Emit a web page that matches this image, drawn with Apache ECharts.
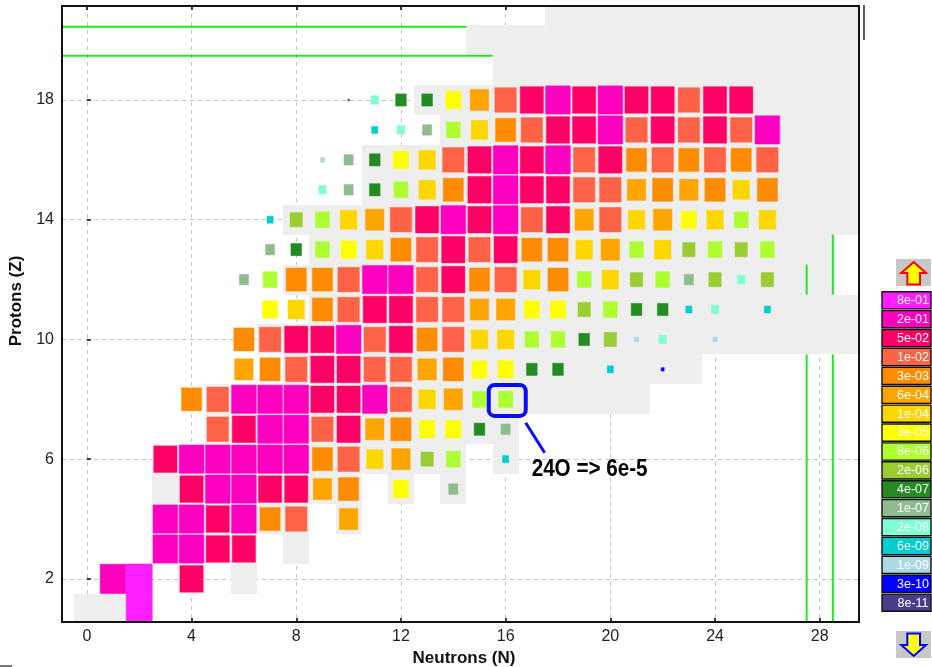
<!DOCTYPE html>
<html><head><meta charset="utf-8">
<script src="https://cdn.jsdelivr.net/npm/echarts@6/dist/echarts.min.js"></script>
<style>html,body{margin:0;padding:0;background:#fff}#c{width:932px;height:667px}</style>
</head><body><div id="c"></div>
<script>
// ---- legend classes ----
const legendLabels = ['8e-01','2e-01','5e-02','1e-02','3e-03','6e-04','1e-04','3e-05','8e-06','2e-06','4e-07','1e-07','2e-08','6e-09','1e-09','3e-10','8e-11'];
const legendColors = ['#FF1EFF','#FF00C0','#FF0066','#FF6347','#FF8C00','#FFA500','#FFD700','#FFFF00','#ADFF2F','#9ACD32','#228B22','#8FBC8F','#7FFFD4','#00CED1','#ADD8E6','#0000FF','#483D8B'];
const xTicks = [0,4,8,12,16,20,24,28];
const yTicks = [2,6,10,14,18];

// ---- nuclide values per proton number Z: [N, value] ----
const Z1 = [[2,0.9]];
const Z2 = [[1,0.5],[2,0.9],[4,0.05]];
const Z3 = [[3,0.2],[4,0.2],[5,0.05],[6,0.05]];
const Z4 = [[3,0.2],[4,0.2],[5,0.05],[6,0.2],[7,3e-3],[8,1e-2],[10,6e-4]];
const Z5 = [[4,0.05],[5,0.2],[6,0.2],[7,0.05],[8,0.05],[9,6e-4],[10,3e-3],[12,3e-5],[14,1e-7]];
const Z6 = [[3,0.05],[4,0.2],[5,0.2],[6,0.2],[7,0.2],[8,0.2],[9,3e-3],[10,1e-2],[11,1e-4],[12,6e-4],[13,2e-6],[14,8e-6],[16,6e-9]];
const Z7 = [[5,1e-2],[6,0.05],[7,0.2],[8,0.2],[9,1e-2],[10,0.05],[11,6e-4],[12,3e-3],[13,3e-5],[14,3e-5],[15,4e-7],[16,1e-7]];
const Z8 = [[4,3e-3],[5,1e-2],[6,0.2],[7,0.2],[8,0.2],[9,0.05],[10,0.05],[11,0.2],[12,1e-2],[13,1e-4],[14,6e-4],[15,8e-6],[16,1.2e-5]];
const Z9 = [[6,6e-4],[7,3e-3],[8,1e-2],[9,0.05],[10,0.05],[11,1e-2],[12,1e-2],[13,6e-4],[14,3e-3],[15,3e-5],[16,3e-5],[17,4e-7],[18,4e-7],[20,6e-9],[22,3e-10]];
const Z10 = [[6,3e-3],[7,1e-2],[8,0.05],[9,0.05],[10,0.2],[11,1e-2],[12,0.05],[13,3e-3],[14,1e-2],[15,1e-4],[16,1e-4],[17,8e-6],[18,8e-6],[19,4e-7],[20,2e-6],[21,1e-9],[22,2e-8],[24,1e-9]];
const Z11 = [[7,3e-5],[8,1e-4],[9,3e-3],[10,1e-2],[11,0.05],[12,0.05],[13,1e-2],[14,1e-2],[15,6e-4],[16,6e-4],[17,3e-5],[18,3e-5],[19,2e-6],[20,8e-6],[21,4e-7],[22,4e-7],[23,6e-9],[24,2e-8],[26,6e-9]];
const Z12 = [[6,1e-7],[7,8e-6],[8,3e-3],[9,3e-3],[10,1e-2],[11,0.2],[12,0.2],[13,1e-2],[14,0.05],[15,3e-3],[16,1e-2],[17,1e-4],[18,3e-3],[19,8e-6],[20,1e-4],[21,2e-6],[22,8e-6],[23,1e-7],[24,2e-6],[25,2e-8],[26,2e-6]];
const Z13 = [[7,1e-7],[8,4e-7],[9,8e-6],[10,3e-5],[11,1e-4],[12,3e-3],[13,1e-2],[14,0.05],[15,1e-2],[16,0.05],[17,3e-3],[18,3e-3],[19,1e-4],[20,6e-4],[21,8e-6],[22,1e-4],[23,2e-6],[24,8e-6],[25,2e-6],[26,8e-6]];
const Z14 = [[7,6e-9],[8,2e-6],[9,8e-6],[10,1e-4],[11,6e-4],[12,1e-2],[13,0.05],[14,0.2],[15,0.05],[16,0.2],[17,1e-2],[18,0.05],[19,6e-4],[20,1e-2],[21,1e-4],[22,6e-4],[23,3e-5],[24,1e-4],[25,8e-6],[26,1e-4]];
const Z15 = [[9,2e-8],[10,1e-7],[11,4e-7],[12,8e-6],[13,1e-4],[14,3e-3],[15,0.05],[16,0.2],[17,0.05],[18,0.05],[19,1e-2],[20,1e-2],[21,6e-4],[22,3e-3],[23,6e-4],[24,3e-3],[25,1e-4],[26,3e-3]];
const Z16 = [[9,1e-9],[10,1e-7],[11,4e-7],[12,3e-5],[13,1e-4],[14,1e-2],[15,0.05],[16,0.2],[17,0.05],[18,0.2],[19,1e-2],[20,0.05],[21,3e-3],[22,1e-2],[23,3e-3],[24,1e-2],[25,3e-3],[26,1e-2]];
const Z17 = [[11,6e-9],[12,2e-8],[13,1e-7],[14,8e-6],[15,1e-4],[16,3e-3],[17,1e-2],[18,0.05],[19,0.05],[20,0.2],[21,1e-2],[22,0.05],[23,1e-2],[24,0.05],[25,1e-2],[26,0.2]];
const Z18 = [[10,8e-11],[11,2e-8],[12,4e-7],[13,4e-7],[14,3e-5],[15,6e-4],[16,1e-2],[17,0.05],[18,0.2],[19,0.05],[20,0.2],[21,0.05],[22,0.05],[23,1e-2],[24,0.05],[25,0.05]];

// ---- known-nuclide (grey) cells: [Z, Nfrom, Nto] ----
const knownCells = [[1,0,2],[2,1,2],[2,4,4],[2,6,6],[3,3,6],[3,8,8],[4,3,8],[4,10,10],[5,3,10],[5,12,12],[5,14,14],
 [6,3,14],[6,16,16],[7,5,16],[8,5,21],[9,8,23],[10,7,29],[11,9,29],[12,8,27],[12,28,28],[13,9,28],[14,8,29],
 [15,11,29],[16,11,29],[17,14,29],[18,13,29],[19,16,29],[20,15,29],[21,18,29]];

// ---- magic-number lines: [x1, y1, x2, y2] ----
const magicLines = [[-0.95,20.45,14.5,20.45],[-0.95,19.48,15.5,19.48],
 [27.5,0.56,27.5,9.5],[27.5,11.5,27.5,12.5],[28.5,0.56,28.5,9.5],[28.5,11.5,28.5,13.5]];

const noteCell = [[16,8]];
const noteText = '24O => 6e-5';

const rows = [Z1,Z2,Z3,Z4,Z5,Z6,Z7,Z8,Z9,Z10,Z11,Z12,Z13,Z14,Z15,Z16,Z17,Z18];
const points = [];
rows.forEach((r,i)=>r.forEach(([n,v])=>points.push([n,i+1,v])));
const thresholds = legendLabels.map(Number);
function colorOf(v){ for(let i=0;i<thresholds.length;i++){ if(v>=thresholds[i]*0.999) return legendColors[i]; } return legendColors[legendColors.length-1]; }
function sizeOf(v){ return Math.max(0.05, Math.min(1, 1.01 + 0.094*Math.log10(v))); }

const chart = echarts.init(document.getElementById('c'), null, {renderer:'canvas'});
const G = {left:62, top:6, right:73, bottom:45};
const W = 932-G.left-G.right, H = 667-G.top-G.bottom;

const legendEls = [];
legendLabels.forEach((lab,i)=>{
  const top = 291.7 + i*18.9;
  legendEls.push({type:'rect', shape:{x:882, y:top, width:49, height:17.2}, style:{fill:legendColors[i], stroke:'#111', lineWidth:1.4}, z:10});
  legendEls.push({type:'text', x:913, y:top+9, style:{text:lab, fill:'#fff', font:'12.5px "Liberation Sans", Arial', align:'center', verticalAlign:'middle'}, z:11});
});
legendEls.push({type:'rect', shape:{x:896, y:259, width:35, height:27}, style:{fill:'#c8c8c8'}, z:10});
legendEls.push({type:'polygon', shape:{points:[[913.7,262],[926,273],[920,273],[920,284.5],[907.3,284.5],[907.3,273],[901.3,273]]}, style:{fill:'#ffff00', stroke:'#ff0000', lineWidth:2}, z:11});
legendEls.push({type:'rect', shape:{x:896, y:631, width:35, height:27}, style:{fill:'#c8c8c8'}, z:10});
legendEls.push({type:'polygon', shape:{points:[[907.3,633.5],[920,633.5],[920,645],[926,645],[913.7,656],[901.3,645],[907.3,645]]}, style:{fill:'#ffff00', stroke:'#0000ff', lineWidth:2}, z:11});
// frame
legendEls.push({type:'rect', shape:{x:G.left, y:G.top, width:W, height:H}, style:{fill:'none', stroke:'#111', lineWidth:2}, z:20});
legendEls.push({type:'line', shape:{x1:864, y1:5, x2:864, y2:40}, style:{stroke:'#222', lineWidth:1.5}, z:20});
legendEls.push({type:'rect', shape:{x:0, y:665, width:12, height:2}, style:{fill:'#777'}, z:20});

const axisFont = {fontFamily:'"Liberation Sans", Arial', fontSize:16, color:'#222'};

chart.setOption({
  animation:false,
  backgroundColor:'#fff',
  grid:{left:G.left, top:G.top, right:G.right, bottom:G.bottom, containLabel:false, outerBoundsMode:'none'},
  xAxis:[{
    type:'value', min:-0.95, max:29.5, position:'bottom',
    axisLine:{show:false},
    axisTick:{show:true, inside:true, length:4, customValues:xTicks, lineStyle:{color:'#000', width:1.5}},
    axisLabel:Object.assign({customValues:xTicks, margin:7}, axisFont),
    splitLine:{show:true, lineStyle:{color:'#c4c4c4', type:[4,4], width:1}},
    name:'Neutrons (N)', nameLocation:'middle', nameGap:27,
    nameTextStyle:{fontWeight:'bold', fontSize:17, color:'#111', fontFamily:'"Liberation Sans", Arial', padding:[0,0,0,7]}
  },{
    type:'value', min:-0.95, max:29.5, position:'top',
    axisLine:{show:false},
    axisTick:{show:true, inside:true, length:4, customValues:xTicks, lineStyle:{color:'#000', width:1.5}},
    axisLabel:{show:false}, splitLine:{show:false}
  }],
  yAxis:[{
    type:'value', min:0.56, max:21.14, position:'left',
    axisLine:{show:false},
    axisTick:{show:true, inside:true, length:4, customValues:yTicks, lineStyle:{color:'#000', width:1.5}},
    axisLabel:Object.assign({customValues:yTicks, margin:8}, axisFont),
    splitLine:{show:true, lineStyle:{color:'#c4c4c4', type:[4,4], width:1}},
    name:'Protons (Z)', nameLocation:'middle', nameGap:29,
    nameTextStyle:{fontWeight:'bold', fontSize:17, color:'#111', fontFamily:'"Liberation Sans", Arial', padding:[0,0,0,26]}
  }],
  graphic:legendEls,
  series:[
    {
      type:'custom', name:'known', clip:true, z:2, silent:true,
      data:knownCells, encode:{x:[1,2], y:0},
      renderItem:function(params, api){
        const z=api.value(0), n0=api.value(1), n1=api.value(2);
        const p0=api.coord([n0-0.5, z+0.5]), p1=api.coord([n1+0.5, z-0.5]);
        const x0=Math.round(p0[0]), y0=Math.round(p0[1]), x1=Math.round(p1[0]), y1=Math.round(p1[1]);
        return {type:'rect', shape:{x:x0, y:y0, width:x1-x0, height:y1-y0}, style:{fill:'#eeeeee'}};
      }
    },
    {
      type:'custom', name:'magic', clip:true, z:3, silent:true,
      data:magicLines, encode:{x:[0,2], y:[1,3]},
      renderItem:function(params, api){
        const a=api.coord([api.value(0), api.value(1)]), b=api.coord([api.value(2), api.value(3)]);
        return {type:'line', shape:{x1:a[0], y1:a[1], x2:b[0], y2:b[1]}, style:{stroke:'#22e822', lineWidth:2}};
      }
    },
    {
      type:'custom', name:'yield', clip:true, z:4,
      data:points, encode:{x:0, y:1},
      renderItem:function(params, api){
        const n=api.value(0), z=api.value(1), v=api.value(2);
        const c=api.coord([n,z]); const s=api.size([1,1]);
        const f=sizeOf(v); const w=s[0]*f, h=s[1]*f;
        const col=colorOf(v);
        return {type:'rect', shape:{x:c[0]-w/2, y:c[1]-h/2, width:w, height:h},
          style:{fill:col, stroke:col, lineWidth:1, strokeOpacity:0.45}};
      }
    },
    {
      type:'custom', name:'note', clip:false, z:6, silent:true,
      data:noteCell, encode:{x:0, y:1},
      renderItem:function(params, api){
        const c=api.coord([api.value(0), api.value(1)]);
        return {type:'group', children:[
          {type:'rect', shape:{x:c[0]-16.9, y:c[1]-14.4, width:37, height:31, r:6}, style:{fill:'none', stroke:'#0a0aff', lineWidth:4}},
          {type:'line', shape:{x1:c[0]+20, y1:c[1]+23.5, x2:c[0]+39, y2:c[1]+53.5}, style:{stroke:'#0a0aff', lineWidth:3}},
          {type:'text', x:c[0]+26, y:c[1]+70.5, scaleX:0.86, style:{text:noteText, font:'bold 24px "Liberation Sans", Arial', fill:'#000', align:'left', verticalAlign:'middle'}}
        ]};
      }
    }
  ]
});
</script>
</body></html>
